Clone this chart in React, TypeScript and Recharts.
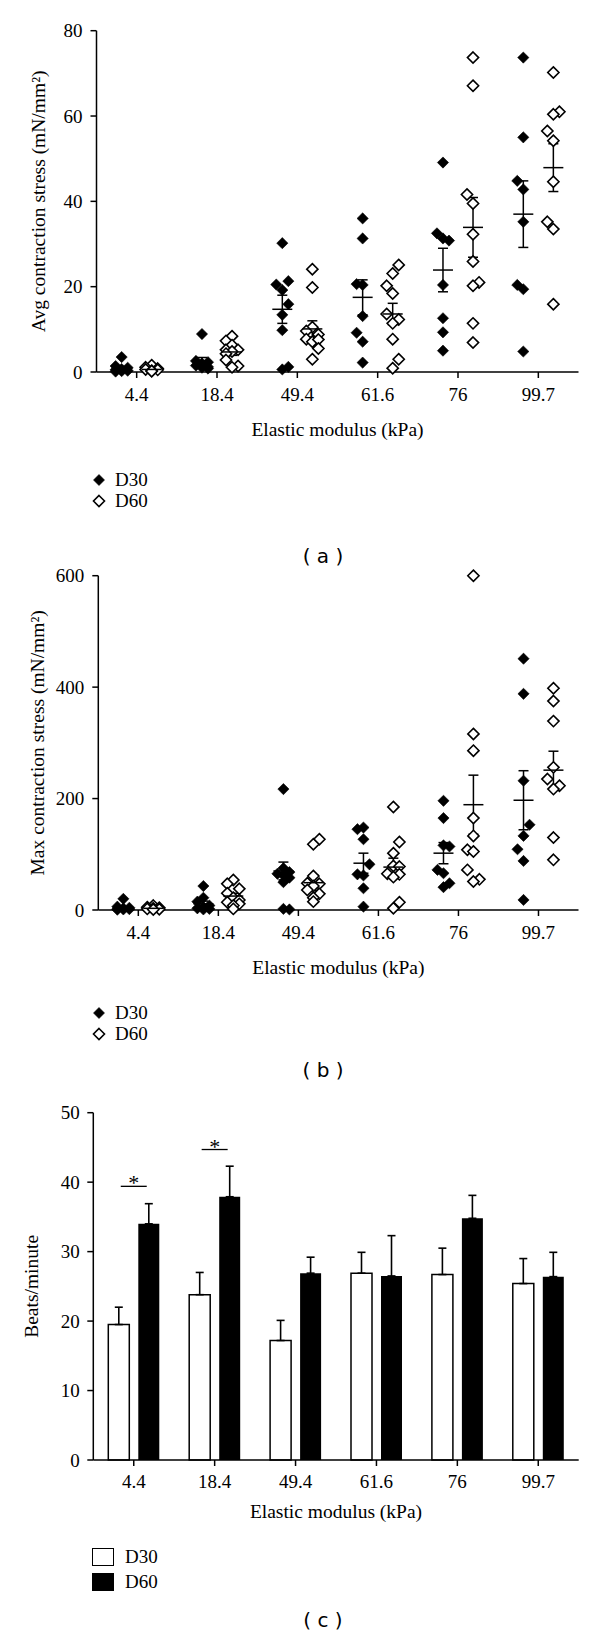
import { ScatterChart, Scatter, XAxis, YAxis, ErrorBar, ComposedChart, Bar } from 'recharts';

const CATEGORIES = ['4.4', '18.4', '49.4', '61.6', '76', '99.7'];
const SERIES_NAMES = ['D30', 'D60'];
const X_TITLE = 'Elastic modulus (kPa)';

// Avg contraction stress, every point is [value, jitter column]
const AVG_D30 = [
  [[3.5, 0], [1.4, -1], [1.0, 1], [0.7, 0], [0.5, -1], [0.3, 1], [0.2, 0], [0.1, -1]],
  [[8.9, 0], [2.6, -1], [2.3, 1], [2.0, 0], [1.5, -1], [1.2, 1], [1.0, 0], [0.8, 1]],
  [[30.2, 0], [21.3, 1], [20.5, -1], [19.2, 0], [15.9, 1], [13.4, 0], [9.8, 0], [1.2, 1], [0.6, 0]],
  [[36.0, 0], [31.3, 0], [20.6, -1], [20.4, 0], [13.1, 0], [9.2, -1], [7.1, 0], [2.2, 0]],
  [[49.1, 0], [32.5, -1], [31.3, 0], [30.8, 1], [20.4, 0], [12.6, 0], [9.3, 0], [5.0, 0]],
  [[73.7, 0], [55.0, 0], [44.8, -1], [42.8, 0], [35.2, 0], [20.4, -1], [19.4, 0], [4.8, 0]],
];
const AVG_D60 = [
  [[1.6, 0], [1.1, -1], [0.8, 1], [0.6, -1], [0.5, 1], [0.3, 0], [0.2, 0]],
  [[8.4, 0], [7.3, -1], [6.3, 0], [5.2, -1], [5.2, 1], [4.8, 0], [4.3, -1], [2.8, -1], [1.4, 1], [1.1, 0]],
  [[24.1, 0], [19.8, 0], [10.5, 0], [9.6, -1], [8.8, 1], [7.7, -1], [7.1, 0], [7.6, 1], [5.5, 1], [3.0, 0]],
  [[25.1, 1], [23.1, 0], [20.2, -1], [18.4, 0], [13.6, -1], [12.3, 1], [11.4, 0], [7.7, 0], [3.0, 1], [0.9, 0]],
  [[73.7, 0], [67.1, 0], [41.6, -1], [39.5, 0], [32.3, 0], [25.9, 0], [21.0, 1], [20.2, 0], [11.4, 0], [6.9, 0]],
  [[70.2, 0], [61.0, 1], [60.4, 0], [56.5, -1], [54.2, 0], [44.6, 0], [35.2, -1], [33.5, 0], [15.9, 0]],
];
const AVG_MEAN_D30 = [0.9, 2.5, 14.7, 17.5, 23.9, 37.0];
const AVG_SEM_D30 = [0.4, 0.9, 3.3, 4.1, 5.1, 7.8];
const AVG_MEAN_D60 = [0.6, 4.7, 10.1, 13.6, 33.9, 47.9];
const AVG_SEM_D60 = [0.2, 0.8, 1.9, 2.5, 7.0, 5.6];
const AVG_TICKS = [0, 20, 40, 60, 80];

// Max contraction stress
const MAX_D30 = [
  [[20, 0], [6, -1], [4, 1], [3, 0], [2, -1], [1.5, 1], [1, 0], [0.5, -1]],
  [[43, 0], [22, 0], [15, -1], [8, 1], [5, 0], [3, -1], [2, 1], [1, 0]],
  [[217, 0], [75, 0], [68, 1], [65, -1], [62, 0], [58, 1], [50, 0], [2, 0], [1, 1]],
  [[148, 0], [145, -1], [127, 0], [82, 1], [64, -1], [62, 0], [39, 0], [6, 0]],
  [[196, 0], [165, 0], [116, 0], [114, 1], [72, -1], [66, 0], [48, 1], [41, 0]],
  [[451, 0], [388, 0], [232, 0], [153, 1], [133, 0], [109, -1], [88, 0], [18, 0]],
];
const MAX_D60 = [
  [[8, 0], [5, -1], [4, 1], [3, 0], [2, -1], [1.5, 1], [1, 0]],
  [[54, 0], [47, -1], [38, 1], [30, -1], [22, 0], [18, 1], [14, -1], [11, 1], [8, 0], [2, 0]],
  [[127, 1], [118, 0], [61, 0], [48, -1], [47, 1], [43, 0], [36, -1], [29, 1], [22, 0], [15, 0]],
  [[185, 0], [122, 1], [102, 0], [79, 0], [78, 1], [65, -1], [64, 1], [59, 0], [14, 1], [3, 0]],
  [[600, 0], [316, 0], [286, 0], [165, 0], [133, 0], [108, -1], [105, 0], [72, -1], [55, 1], [51, 0]],
  [[398, 0], [375, 0], [339, 0], [256, 0], [235, -1], [223, 1], [217, 0], [130, 0], [90, 0]],
];
const MAX_MEAN_D30 = [4, 11, 70, 84, 102, 197];
const MAX_SEM_D30 = [2, 5, 16, 18, 19, 53];
const MAX_MEAN_D60 = [3, 25, 49, 77, 189, 251];
const MAX_SEM_D60 = [1, 5, 14, 16, 53, 34];
const MAX_TICKS = [0, 200, 400, 600];

// Beating rate
const BEATS_D30 = [19.5, 23.8, 17.2, 26.9, 26.7, 25.4];
const BEATS_D30_ERR = [2.5, 3.2, 2.9, 3.0, 3.8, 3.6];
const BEATS_D60 = [34.0, 37.9, 26.9, 26.5, 34.8, 26.4];
const BEATS_D60_ERR = [2.9, 4.4, 2.3, 5.8, 3.3, 3.5];
const SIGNIFICANCE = [39.4, 44.7, null, null, null, null];
const BEATS_TICKS = [0, 10, 20, 30, 40, 50];

const FONT = '"Liberation Serif", "Times New Roman", serif';
const SIDE = 0.187; // D30 left / D60 right of the category centre, in axis units
const JITTER = 0.075;

const tickStyle = { fill: '#000', fontSize: 19, fontFamily: FONT };
const lineStyle = { stroke: '#000', strokeWidth: 1.5 };

function toPoints(groups: number[][][], side: number) {
  const out: { x: number; y: number }[] = [];
  groups.forEach((g, i) => g.forEach(([v, j]) => out.push({ x: i + side * SIDE + j * JITTER, y: v })));
  return out;
}

function toMeans(means: number[], sems: number[], side: number) {
  return means.map((m, i) => ({ x: i + side * SIDE, y: m, err: sems[i] }));
}

const diamond = (filled: boolean) => (props: any) => {
  const { cx, cy } = props;
  if (!Number.isFinite(cx) || !Number.isFinite(cy)) return <g />;
  const r = 5.6;
  return (
    <polygon
      points={`${cx},${cy - r} ${cx + r},${cy} ${cx},${cy + r} ${cx - r},${cy}`}
      fill={filled ? '#000' : '#fff'}
      stroke="#000"
      strokeWidth={filled ? 0.6 : 1.6}
    />
  );
};

const meanTick = (props: any) => {
  const { cx, cy } = props;
  if (!Number.isFinite(cx) || !Number.isFinite(cy)) return <g />;
  return <line x1={cx - 10} x2={cx + 10} y1={cy} y2={cy} stroke="#000" strokeWidth={1.5} />;
};

function DiamondIcon({ filled }: { filled: boolean }) {
  return (
    <svg width={14} height={14} style={{ display: 'block' }}>
      <polygon points="7,1.5 12.5,7 7,12.5 1.5,7" fill={filled ? '#000' : '#fff'} stroke="#000" strokeWidth={filled ? 0.6 : 1.6} />
    </svg>
  );
}

function Caption({ text, top }: { text: string; top: number }) {
  return (
    <div style={{ position: 'absolute', left: 0, width: 646, top, textAlign: 'center', fontFamily: '"DejaVu Sans", sans-serif', fontSize: 20, lineHeight: '24px', whiteSpace: 'pre' }}>
      {text}
    </div>
  );
}

interface ScatterPanelProps {
  top: number;
  plotTop: number;
  axisX: number;
  labelX: number;
  yLabel: string;
  ticks: number[];
  d30: number[][][];
  d60: number[][][];
  mean30: number[];
  sem30: number[];
  mean60: number[];
  sem60: number[];
}

function ScatterPanel(p: ScatterPanelProps) {
  const yMax = p.ticks[p.ticks.length - 1];
  return (
    <div style={{ position: 'absolute', left: 0, top: p.top }}>
      <ScatterChart width={600} height={448} margin={{ top: p.plotTop, right: 21.5, bottom: 12, left: 0 }}>
        <XAxis
          type="number"
          dataKey="x"
          domain={[-0.5, CATEGORIES.length - 0.5]}
          ticks={CATEGORIES.map((_, i) => i)}
          tickFormatter={(v: number) => CATEGORIES[v] ?? ''}
          interval={0}
          height={64}
          tickSize={6}
          tickMargin={10}
          tick={tickStyle}
          axisLine={lineStyle}
          tickLine={lineStyle}
          label={{ value: X_TITLE, position: 'insideBottom', offset: 0, fill: '#000', fontSize: 19.5, fontFamily: FONT }}
        />
        <YAxis
          type="number"
          dataKey="y"
          domain={[0, yMax]}
          ticks={p.ticks}
          interval={0}
          width={p.axisX}
          tickSize={6}
          tickMargin={8}
          tick={tickStyle}
          axisLine={lineStyle}
          tickLine={lineStyle}
          label={{ value: p.yLabel, angle: -90, position: 'insideLeft', offset: p.labelX, fill: '#000', fontSize: 19.5, fontFamily: FONT, style: { textAnchor: 'middle' } }}
        />
        <Scatter name={SERIES_NAMES[0]} data={toPoints(p.d30, -1)} shape={diamond(true)} isAnimationActive={false} />
        <Scatter name={SERIES_NAMES[1]} data={toPoints(p.d60, 1)} shape={diamond(false)} isAnimationActive={false} />
        <Scatter data={toMeans(p.mean30, p.sem30, -1)} shape={meanTick} legendType="none" isAnimationActive={false}>
          <ErrorBar dataKey="err" direction="y" width={5} stroke="#000" strokeWidth={1.5} isAnimationActive={false} />
        </Scatter>
        <Scatter data={toMeans(p.mean60, p.sem60, 1)} shape={meanTick} legendType="none" isAnimationActive={false}>
          <ErrorBar dataKey="err" direction="y" width={5} stroke="#000" strokeWidth={1.5} isAnimationActive={false} />
        </Scatter>
      </ScatterChart>
    </div>
  );
}

function DiamondLegend({ top }: { top: number }) {
  return (
    <div style={{ position: 'absolute', left: 92, top, fontFamily: FONT, fontSize: 19 }}>
      {SERIES_NAMES.map((name, i) => (
        <div key={name} style={{ display: 'flex', alignItems: 'center', height: 21 }}>
          <DiamondIcon filled={i === 0} />
          <span style={{ marginLeft: 9 }}>{name}</span>
        </div>
      ))}
    </div>
  );
}

const sigMark = (props: any) => {
  const { cx, cy, payload } = props;
  if (payload?.sig == null || !Number.isFinite(cx) || !Number.isFinite(cy)) return <g />;
  return (
    <g>
      <line x1={cx - 13} x2={cx + 13} y1={cy} y2={cy} stroke="#000" strokeWidth={1.3} />
      <text x={cx} y={cy + 4} textAnchor="middle" fontFamily={FONT} fontSize={22} fill="#000">*</text>
    </g>
  );
};

function BeatsPanel() {
  const data = CATEGORIES.map((name, i) => ({
    name,
    d30: BEATS_D30[i],
    d30err: [0, BEATS_D30_ERR[i]],
    d60: BEATS_D60[i],
    d60err: [0, BEATS_D60_ERR[i]],
    sig: SIGNIFICANCE[i],
  }));
  return (
    <div style={{ position: 'absolute', left: 0, top: 1080 }}>
      <ComposedChart width={600} height={450} data={data} margin={{ top: 32.7, right: 21.3, bottom: 12, left: 0 }} barSize={21} barGap={9}>
        <XAxis
          dataKey="name"
          type="category"
          interval={0}
          height={58}
          tickSize={6}
          tickMargin={9}
          tick={tickStyle}
          axisLine={lineStyle}
          tickLine={lineStyle}
          label={{ value: X_TITLE, position: 'insideBottom', offset: 0, fill: '#000', fontSize: 19.5, fontFamily: FONT }}
        />
        <YAxis
          type="number"
          domain={[0, 50]}
          ticks={BEATS_TICKS}
          interval={0}
          width={93.3}
          tickSize={6}
          tickMargin={7.5}
          tick={tickStyle}
          axisLine={lineStyle}
          tickLine={lineStyle}
          label={{ value: 'Beats/minute', angle: -90, position: 'insideLeft', offset: 31, fill: '#000', fontSize: 19.5, fontFamily: FONT, style: { textAnchor: 'middle' } }}
        />
        <Bar dataKey="d30" name={SERIES_NAMES[0]} fill="#fff" stroke="#000" strokeWidth={1.5} isAnimationActive={false}>
          <ErrorBar dataKey="d30err" direction="y" width={4} stroke="#000" strokeWidth={1.6} isAnimationActive={false} />
        </Bar>
        <Bar dataKey="d60" name={SERIES_NAMES[1]} fill="#000" isAnimationActive={false}>
          <ErrorBar dataKey="d60err" direction="y" width={4} stroke="#000" strokeWidth={1.6} isAnimationActive={false} />
        </Bar>
        <Scatter dataKey="sig" shape={sigMark} legendType="none" isAnimationActive={false} />
      </ComposedChart>
    </div>
  );
}

function BoxLegend({ top }: { top: number }) {
  return (
    <div style={{ position: 'absolute', left: 92, top, fontFamily: FONT, fontSize: 19 }}>
      {SERIES_NAMES.map((name, i) => (
        <div key={name} style={{ display: 'flex', alignItems: 'center', height: 24.5 }}>
          <div style={{ width: 20, height: 16, border: '1.5px solid #000', background: i === 0 ? '#fff' : '#000' }} />
          <span style={{ marginLeft: 11 }}>{name}</span>
        </div>
      ))}
    </div>
  );
}

export default function App() {
  return (
    <div style={{ position: 'absolute', left: 0, top: 0, width: 600, height: 1646, background: '#fff', overflow: 'hidden' }}>
      <ScatterPanel
        top={0}
        plotTop={30.7}
        axisX={96.5}
        labelX={37.7}
        yLabel="Avg contraction stress (mN/mm²)"
        ticks={AVG_TICKS}
        d30={AVG_D30}
        d60={AVG_D60}
        mean30={AVG_MEAN_D30}
        sem30={AVG_SEM_D30}
        mean60={AVG_MEAN_D60}
        sem60={AVG_SEM_D60}
      />
      <DiamondLegend top={469} />
      <Caption text="( a )" top={544} />

      <ScatterPanel
        top={538}
        plotTop={37.7}
        axisX={98.3}
        labelX={37.5}
        yLabel="Max contraction stress (mN/mm²)"
        ticks={MAX_TICKS}
        d30={MAX_D30}
        d60={MAX_D60}
        mean30={MAX_MEAN_D30}
        sem30={MAX_SEM_D30}
        mean60={MAX_MEAN_D60}
        sem60={MAX_SEM_D60}
      />
      <DiamondLegend top={1002} />
      <Caption text="( b )" top={1058} />

      <BeatsPanel />
      <BoxLegend top={1545} />
      <Caption text="( c )" top={1608} />
    </div>
  );
}
